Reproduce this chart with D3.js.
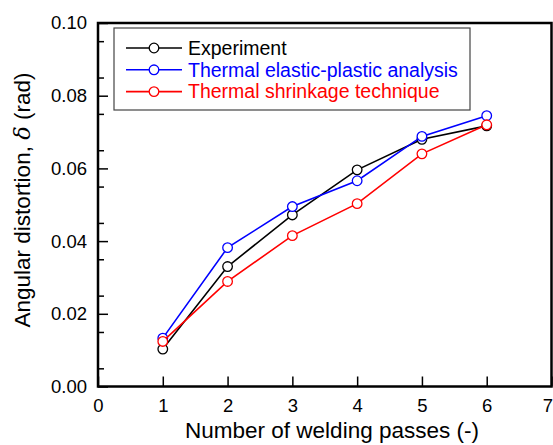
<!DOCTYPE html>
<html>
<head>
<meta charset="utf-8">
<script src="https://cdn.jsdelivr.net/npm/d3@7"></script>
<style>
  body { margin: 0; background: #fff; }
  text { font-family: "Liberation Sans", Arial, sans-serif; }
</style>
</head>
<body>
<div id="chart"></div>
<script>
// data
let passes = [1, 2, 3, 4, 5, 6];
let experiment = [0.0103, 0.0330, 0.0472, 0.0596, 0.0680, 0.0717];
let elasticPlastic = [0.0133, 0.0382, 0.0495, 0.0566, 0.0688, 0.0745];
let shrinkage = [0.0124, 0.0289, 0.0415, 0.0503, 0.0640, 0.0720];
let seriesNames = ['Experiment', 'Thermal elastic-plastic analysis', 'Thermal shrinkage technique'];
let seriesColors = ['#000000', '#0000ff', '#ff0000'];
let xTicks = [0, 1, 2, 3, 4, 5, 6, 7];
let yTicks = [0, 0.02, 0.04, 0.06, 0.08, 0.10];

let W = 553, H = 445;
let margin = { top: 23, right: 1.5, bottom: 58.5, left: 98 };
let width = W - margin.left - margin.right,
    height = H - margin.top - margin.bottom;

let svg = d3.select('#chart').append('svg')
    .attr('width', W)
    .attr('height', H);

let g = svg.append('g')
    .attr('transform', 'translate(' + margin.left + ',' + margin.top + ')');

let x = d3.scaleLinear().domain([0, 7]).range([0, width]);
let y = d3.scaleLinear().domain([0, 0.10]).range([height, 0]);

// minor y ticks (inside)
g.append('g')
    .call(d3.axisLeft(y).tickValues(d3.range(0.005, 0.1, 0.01)).tickSize(-6).tickFormat(''))
    .call(a => a.select('.domain').remove())
    .selectAll('line').attr('stroke-width', 1.5);

// major y ticks
let yAxis = g.append('g')
    .call(d3.axisLeft(y).tickValues(yTicks).tickSize(-10).tickPadding(11)
        .tickFormat(d3.format('.2f')));
yAxis.select('.domain').remove();
yAxis.selectAll('line').attr('stroke-width', 1.5);
yAxis.selectAll('text').attr('font-size', 18.5).attr('fill', '#000');

// x ticks
let xAxis = g.append('g')
    .attr('transform', 'translate(0,' + height + ')')
    .call(d3.axisBottom(x).tickValues(xTicks).tickSize(-10).tickPadding(12)
        .tickFormat(d3.format('d')));
xAxis.select('.domain').remove();
xAxis.selectAll('line').attr('stroke-width', 1.5);
xAxis.selectAll('text').attr('font-size', 18.5).attr('fill', '#000');
// keep the last label inside the window
xAxis.selectAll('text').filter(d => d === 7).attr('text-anchor', 'end').attr('x', 1);

// frame
g.append('rect')
    .attr('width', width)
    .attr('height', height)
    .attr('fill', 'none')
    .attr('stroke', '#000')
    .attr('stroke-width', 2.5);

// series
let allSeries = [experiment, elasticPlastic, shrinkage];
let line = d3.line()
    .x((d, i) => x(passes[i]))
    .y(d => y(d));

allSeries.forEach(function(vals, k) {
    g.append('path')
        .datum(vals)
        .attr('d', line)
        .attr('fill', 'none')
        .attr('stroke', seriesColors[k])
        .attr('stroke-width', 1.6);
    g.selectAll('.pt' + k)
        .data(vals)
        .enter().append('circle')
        .attr('class', 'pt' + k)
        .attr('cx', (d, i) => x(passes[i]))
        .attr('cy', d => y(d))
        .attr('r', 4.8)
        .attr('fill', '#fff')
        .attr('stroke', seriesColors[k])
        .attr('stroke-width', 1.3);
});

// legend
let legend = svg.append('g').attr('transform', 'translate(114,28)');
legend.append('rect')
    .attr('width', 356)
    .attr('height', 82)
    .attr('fill', '#fff')
    .attr('stroke', '#444')
    .attr('stroke-width', 1.2);

seriesNames.forEach(function(name, k) {
    let row = legend.append('g').attr('transform', 'translate(0,' + (20 + k * 21.8) + ')');
    row.append('line')
        .attr('x1', 12).attr('x2', 68)
        .attr('stroke', seriesColors[k])
        .attr('stroke-width', 1.6);
    row.append('circle')
        .attr('cx', 40).attr('r', 4.8)
        .attr('fill', '#fff')
        .attr('stroke', seriesColors[k])
        .attr('stroke-width', 1.3);
    row.append('text')
        .attr('x', 74)
        .attr('dy', '0.35em')
        .attr('font-size', 19.5)
        .attr('fill', seriesColors[k])
        .text(name);
});

// axis titles
svg.append('text')
    .attr('x', 332)
    .attr('y', 438)
    .attr('text-anchor', 'middle')
    .attr('font-size', 22.5)
    .text('Number of welding passes (-)');

let yt = svg.append('text')
    .attr('transform', 'translate(30,200) rotate(-90)')
    .attr('text-anchor', 'middle')
    .attr('font-size', 22.5);
yt.append('tspan').text('Angular distortion, ');
yt.append('tspan').attr('font-family', '"DejaVu Serif", serif').attr('font-style', 'italic').text('δ');
yt.append('tspan').text(' (rad)');
</script>
</body>
</html>
